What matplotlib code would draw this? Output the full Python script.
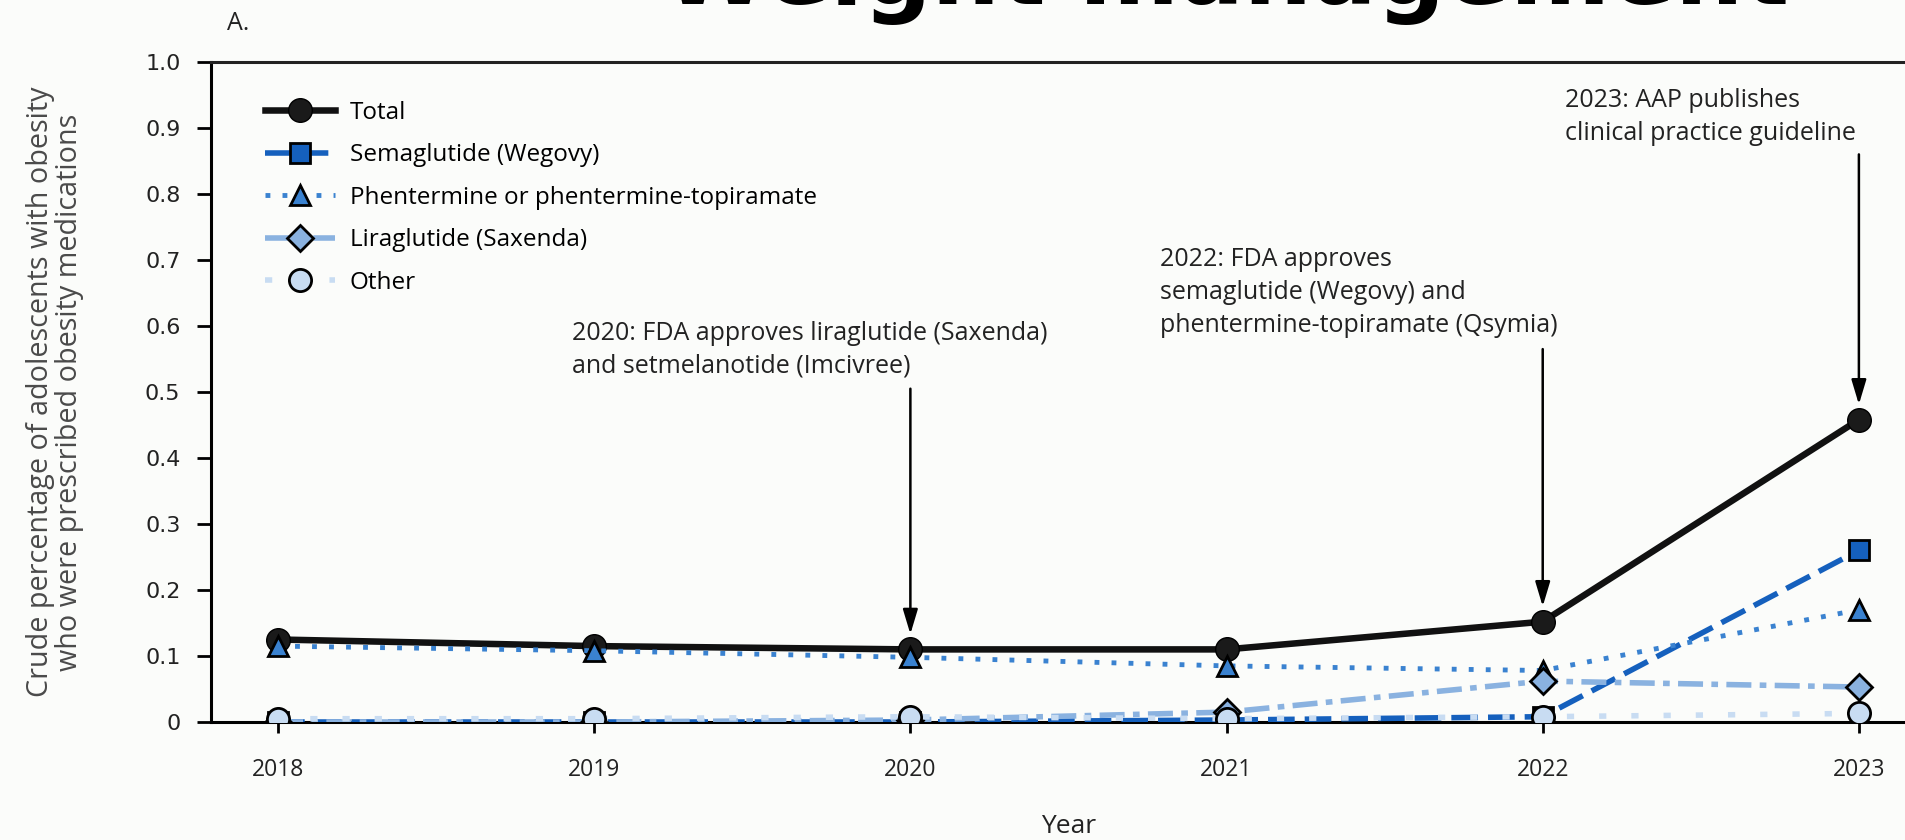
import matplotlib
matplotlib.use("Agg")
import matplotlib.pyplot as plt

years = [2018, 2019, 2020, 2021, 2022, 2023]
total = [0.125, 0.115, 0.110, 0.110, 0.152, 0.458]
semaglutide = [0.0, 0.0, 0.0, 0.003, 0.008, 0.260]
phentermine = [0.115, 0.108, 0.098, 0.085, 0.078, 0.170]
liraglutide = [0.0, 0.0, 0.003, 0.015, 0.062, 0.053]
other = [0.005, 0.005, 0.008, 0.005, 0.008, 0.013]

yticks = [0, 0.1, 0.2, 0.3, 0.4, 0.5, 0.6, 0.7, 0.8, 0.9, 1.0]
ytick_labels = ["0", "0.1", "0.2", "0.3", "0.4", "0.5", "0.6", "0.7", "0.8", "0.9", "1.0"]

# (event year, text, text x, text top y, arrow start y)
notes = [
    (2020, "2020: FDA approves liraglutide (Saxenda)\nand setmelanotide (Imcivree)", 2018.93, 0.608, 0.505),
    (2022, "2022: FDA approves\nsemaglutide (Wegovy) and\nphentermine-topiramate (Qsymia)", 2020.79, 0.719, 0.565),
    (2023, "2023: AAP publishes\nclinical practice guideline", 2022.07, 0.961, 0.86),
]

font = "Open Sans"
txt = "#222222"
bg = "#fbfcfa"

fig = plt.figure(figsize=(19.06, 8.40), dpi=100, facecolor=bg)
ax = fig.add_axes([211 / 1906, 118 / 840, 1 - 211 / 1906, 660 / 840])
ax.set_facecolor(bg)

# Total at the back, Other on top (as in the original)
ax.plot(years, total, color="#111111", lw=4.7, marker="o", ms=17,
        mfc="#1a1a1a", mec="black", label="Total", zorder=3)
ax.plot(years, semaglutide, color="#1560bd", lw=4, linestyle=(0, (4.8, 1.8)),
        marker="s", ms=14, mfc="#1560bd", mec="black", mew=2, label="Semaglutide (Wegovy)", zorder=4)
ax.plot(years, phentermine, color="#3a82d0", lw=3.5, linestyle=(0, (1, 2.5)),
        marker="^", ms=15, mfc="#3a82d0", mec="black", mew=2,
        label="Phentermine or phentermine-topiramate", zorder=5)
ax.plot(years, liraglutide, color="#8ab2e0", lw=4, linestyle=(0, (4.5, 1.5, 1.2, 1.5)),
        marker="D", ms=13, mfc="#8ab2e0", mec="black", mew=2, label="Liraglutide (Saxenda)", zorder=6)
ax.plot(years, other, color="#c8dcf2", lw=4, linestyle=(0, (1.3, 4.5)),
        marker="o", ms=16, mfc="#c8dcf2", mec="black", mew=2, label="Other", zorder=7)

ax.set_xlim(2017.788, 2023.149)
ax.set_ylim(0, 1.0)
ax.set_xticks(years)
ax.set_xticklabels([str(y) for y in years], fontfamily=font, fontsize=16.5, color=txt)
ax.set_yticks(yticks)
ax.set_yticklabels(ytick_labels, fontfamily="DejaVu Sans", fontsize=16, color=txt)
ax.tick_params(axis="y", length=10, width=2, pad=12)
ax.tick_params(axis="x", length=8, width=2, pad=18)

for s in ["left", "bottom", "top"]:
    ax.spines[s].set_linewidth(2.2)
ax.spines["right"].set_visible(False)
ax.spines["top"].set_color("#222222")

fig.text(55 / 1906, 1 - 392 / 840,
         "Crude percentage of adolescents with obesity\nwho were prescribed obesity medications",
         rotation=90, ha="center", va="center", multialignment="center",
         fontfamily=font, fontsize=20.7, color="#4a4a4a", linespacing=1.03)
ax.text(2020.5, -0.158, "Year", ha="center", va="center", fontfamily=font, fontsize=19, color=txt)

# event arrows
for yr, label, tx, ty, ay in notes:
    ax.text(tx, ty, label, ha="left", va="top", fontfamily=font, fontsize=18,
            color=txt, linespacing=1.42)
    ax.annotate("", xy=(yr, total[years.index(yr)]), xytext=(yr, ay),
                arrowprops=dict(arrowstyle="-|>,head_length=1.5,head_width=0.45",
                                color="black", lw=1.8, shrinkA=0, shrinkB=11),
                zorder=8)

handles, labels = ax.get_legend_handles_labels()
ax.legend(handles, labels,
          loc="upper left", bbox_to_anchor=(265 / 1906, 1 - 101 / 840),
          bbox_transform=fig.transFigure, frameon=False, handlelength=2.9,
          handletextpad=0.58, labelspacing=0.76, borderpad=0, borderaxespad=0,
          prop={"family": font, "size": 17.5})

fig.text(227 / 1906, 1 - 24 / 840, "A.", ha="left", va="center", fontfamily=font,
         fontsize=18, color=txt)
fig.text(663 / 1906, 1 - 4 / 840, "Weight management", ha="left", va="baseline",
         fontfamily="DejaVu Sans", fontweight="bold", fontsize=69, color="black")

fig.savefig("out.png", dpi=100, facecolor=bg)
